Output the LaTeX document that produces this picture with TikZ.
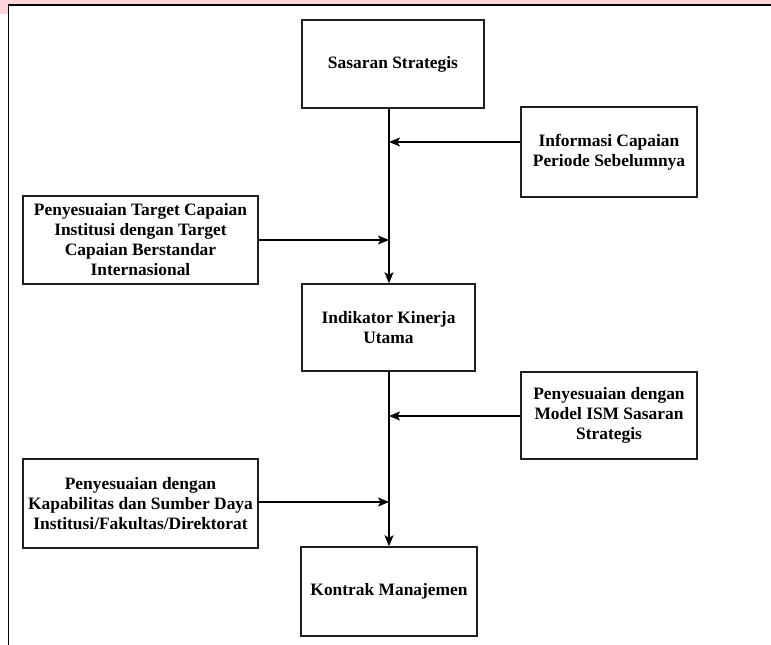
\documentclass[tikz,border=0pt]{standalone}
\usepackage{fontspec}
\setmainfont{Liberation Serif}
\usetikzlibrary{arrows.meta}
\definecolor{bandpink}{RGB}{255,212,218}
\definecolor{boxline}{RGB}{30,30,30}
\begin{document}
\begin{tikzpicture}[x=1pt,y=-1pt,
  box/.style={draw=boxline,line width=1.4pt,rectangle,inner sep=0pt,align=center,
    font=\fontsize{17.4}{20}\selectfont\bfseries},
  arr/.style={draw=black,line width=1.3pt,-{Stealth[length=11pt,width=9pt,inset=2.5pt]}},
  frameline/.style={draw=black,line width=1.6pt}]
\useasboundingbox (0,0) rectangle (771,645);
\fill[white] (0,0) rectangle (771,645);
% pink band at top
\fill[bandpink] (0,0) rectangle (771,5);
\fill[bandpink] (0,0) rectangle (8,14);
% outer frame (top and left)
\coordinate (fa) at (8.5,645);
\coordinate (fb) at (8.5,5);
\coordinate (fc) at (771,5);
\draw[frameline] (fa) -- (fb) -- (fc);
% boxes
\node[box,minimum width=182pt,minimum height=88pt] (ss) at (393,64) {Sasaran Strategis};
\node[box,minimum width=176pt,minimum height=90pt] (info) at (609,152) {Informasi Capaian\\Periode Sebelumnya};
\node[box,minimum width=235pt,minimum height=88pt] (target) at (140.5,240) {Penyesuaian Target Capaian\\Institusi dengan Target\\Capaian Berstandar\\Internasional};
\node[box,minimum width=173pt,minimum height=87pt] (iku) at (388.5,327.5) {Indikator Kinerja\\Utama};
\node[box,minimum width=176pt,minimum height=87pt] (ism) at (609,415.5) {Penyesuaian dengan\\Model ISM Sasaran\\Strategis};
\node[box,minimum width=235pt,minimum height=89pt] (kap) at (140.5,503.5) {Penyesuaian dengan\\Kapabilitas dan Sumber Daya\\Institusi/Fakultas/Direktorat};
\node[box,minimum width=176pt,minimum height=89pt] (km) at (389,591.5) {Kontrak Manajemen};
% junction points on the vertical line
\coordinate (j1) at (389,142);
\coordinate (j2) at (389,240);
\coordinate (j3) at (389,416);
\coordinate (j4) at (389,502);
% connectors
\draw[arr] (ss.south -| j1) -- (j1 |- iku.north);
\draw[arr] (iku.south -| j3) -- (j3 |- km.north);
\draw[arr] (info.west |- j1) -- (j1);
\draw[arr] (target.east |- j2) -- (j2);
\draw[arr] (ism.west |- j3) -- (j3);
\draw[arr] (kap.east |- j4) -- (j4);
\end{tikzpicture}
\end{document}
